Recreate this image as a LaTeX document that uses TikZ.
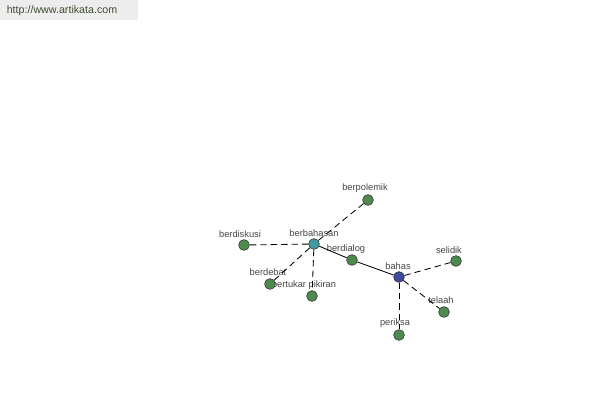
\documentclass[tikz,border=0pt]{standalone}
\usepackage{fontspec}
\setmainfont{Liberation Sans}
\usepackage{tikz}
\usetikzlibrary{positioning, arrows.meta}

\definecolor{dotgreen}{HTML}{4E8A4E}
\definecolor{dotteal}{HTML}{3F9A9E}
\definecolor{dotblue}{HTML}{4048A0}
\definecolor{labgray}{HTML}{444444}
\definecolor{urlgreen}{HTML}{3E4E30}

\begin{document}
\begin{tikzpicture}[
  x=0.025cm, y=-0.025cm,
  font=\fontsize{6.6}{7.5}\selectfont,
  word/.style={circle, draw=black!80, fill=dotgreen, inner sep=0pt,
    minimum size=0.27cm, thin},
  hub/.style={word, fill=dotteal},
  root/.style={word, fill=dotblue},
  lab/.style={text=labgray, inner sep=0pt},
  syn/.style={dash pattern=on 0.16cm off 0.1cm, semithick},
  link/.style={semithick},
]
  \useasboundingbox (0,0) rectangle (600,400);

  % site banner
  \fill[black!7] (0,0) rectangle (138,20);
  \node[text=urlgreen, font=\fontsize{7.6}{9}\selectfont] (url) at (62,11) {http://www.artikata.com};

  % labels
  \node[lab] (l-berbahasan) at (314,233) {berbahasan};
  \node[lab] (l-bahas)      at (398,266) {bahas};
  \node[lab] (l-berpolemik) at (365,188) {berpolemik};
  \node[lab] (l-berdiskusi) at (240,234) {berdiskusi};
  \node[lab] (l-berdialog)  at (346,249) {berdialog};
  \node[lab] (l-berdebat)   at (268,272) {berdebat};
  \node[lab] (l-bertukar)   at (304,285) {bertukar pikiran};
  \node[lab] (l-selidik)    at (449,250) {selidik};
  \node[lab] (l-telaah)     at (441,300) {telaah};
  \node[lab] (l-periksa)    at (395,323) {periksa};

  % word nodes
  \node[hub]  (berbahasan) at (314,244) {};
  \node[root] (bahas)      at (399,277) {};
  \node[word] (berpolemik) at (368,200) {};
  \node[word] (berdiskusi) at (244,245) {};
  \node[word] (berdialog)  at (352,260) {};
  \node[word] (berdebat)   at (270,284) {};
  \node[word] (bertukar)   at (312,296) {};
  \node[word] (selidik)    at (456,261) {};
  \node[word] (telaah)     at (444,312) {};
  \node[word] (periksa)    at (399,335) {};

  % connections
  \draw[link] (berbahasan) -- (berdialog);
  \draw[link] (berdialog) -- (bahas);
  \draw[syn] (berbahasan) -- (berpolemik);
  \draw[syn] (berbahasan) -- (berdiskusi);
  \draw[syn] (berbahasan) -- (berdebat);
  \draw[syn] (berbahasan) -- (bertukar);
  \draw[syn] (bahas) -- (selidik);
  \draw[syn] (bahas) -- (telaah);
  \draw[syn] (bahas) -- (periksa);
\end{tikzpicture}
\end{document}
